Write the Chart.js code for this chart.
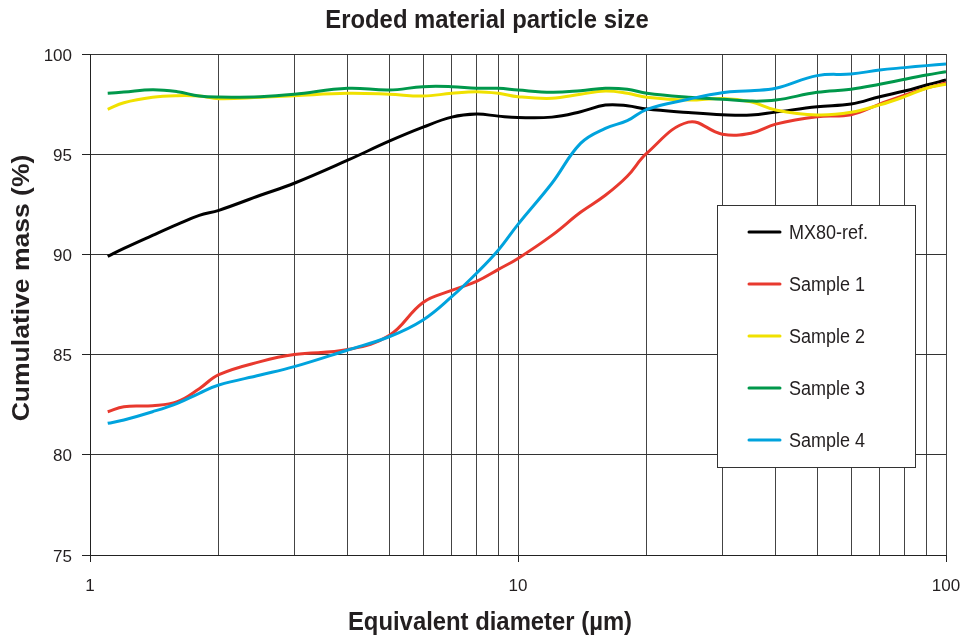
<!DOCTYPE html>
<html>
<head>
<meta charset="utf-8">
<title>Eroded material particle size</title>
<script src="https://cdn.jsdelivr.net/npm/chart.js@4.4.0/dist/chart.umd.min.js"></script>
<style>
  html, body { margin: 0; padding: 0; background: #fff; }
  #wrap { width: 960px; height: 636px; }
</style>
</head>
<body>
<div id="wrap"><canvas id="psd" width="960" height="636"></canvas></div>
<script>
// ------- data -------
// equivalent diameter (µm), shared by every curve
const diameters = [1.1, 1.2, 1.4, 1.6, 1.8, 2, 2.5, 3, 4, 5, 6, 7, 8, 9, 10,
                   12, 14, 16, 18, 20, 25, 30, 35, 40, 50, 60, 70, 80, 90, 100];

// cumulative mass (%)
const mx80Ref = [89.9, 90.3, 90.95, 91.5, 91.95, 92.2, 92.95, 93.55, 94.7, 95.65, 96.35, 96.85, 97.0, 96.9, 96.83,
                 96.85, 97.12, 97.45, 97.42, 97.25, 97.08, 96.97, 96.95, 97.1, 97.37, 97.5, 97.87, 98.15, 98.45, 98.7];
const sample1 = [82.15, 82.4, 82.45, 82.65, 83.3, 84.0, 84.65, 85.0, 85.25, 85.95, 87.6, 88.2, 88.65, 89.25, 89.8,
                 90.95, 92.1, 92.95, 93.9, 95.05, 96.6, 96.0, 96.05, 96.5, 96.87, 96.97, 97.5, 97.95, 98.3, 98.55];
const sample2 = [97.24, 97.57, 97.84, 97.92, 97.9, 97.77, 97.84, 97.92, 98.04, 97.99, 97.9, 98.04, 98.12, 98.04, 97.87,
                 97.79, 97.99, 98.15, 98.04, 97.84, 97.7, 97.78, 97.62, 97.21, 96.96, 97.09, 97.46, 97.87, 98.29, 98.49];
const sample3 = [98.04, 98.1, 98.22, 98.12, 97.9, 97.85, 97.87, 97.99, 98.29, 98.2, 98.37, 98.37, 98.29, 98.29, 98.2,
                 98.09, 98.17, 98.29, 98.24, 98.04, 97.84, 97.74, 97.65, 97.7, 98.09, 98.24, 98.49, 98.74, 98.95, 99.12];
const sample4 = [81.57, 81.74, 82.15, 82.57, 83.07, 83.48, 83.98, 84.4, 85.23, 85.89, 86.73, 87.89, 89.06, 90.22, 91.5,
                 93.55, 95.54, 96.29, 96.67, 97.24, 97.74, 98.07, 98.17, 98.29, 98.92, 99.0, 99.2, 99.32, 99.42, 99.5];

// axis ticks
const xGridTicks = [1, 2, 3, 4, 5, 6, 7, 8, 9, 10, 20, 30, 40, 50, 60, 70, 80, 90, 100];
const xLabelTicks = [1, 10, 100];
const yTicks = [75, 80, 85, 90, 95, 100];

const FONT = "'Liberation Sans', Arial, sans-serif";
const INK = '#231f20';
const NARROW = 0.9; // horizontal squeeze of the heading / legend type

const series = [
  { label: 'MX80-ref.', data: mx80Ref, color: '#000000' },
  { label: 'Sample 1',  data: sample1, color: '#e8392e' },
  { label: 'Sample 2',  data: sample2, color: '#f0e100' },
  { label: 'Sample 3',  data: sample3, color: '#00984b' },
  { label: 'Sample 4',  data: sample4, color: '#00a3dd' },
];

// text with a narrower set width
function narrowText(ctx, text, x, y, rot = 0) {
  ctx.save();
  ctx.translate(x, y);
  ctx.rotate(rot);
  if (rot) ctx.scale(1, NARROW); else ctx.scale(NARROW, 1);
  ctx.fillText(text, 0, 0);
  ctx.restore();
}

// ------- titles + boxed legend drawn on top of the plot -------
const decorations = {
  id: 'decorations',
  afterDraw(chart) {
    const { ctx } = chart;
    ctx.save();
    ctx.fillStyle = INK;
    ctx.textAlign = 'center';
    ctx.textBaseline = 'middle';

    ctx.font = `bold 26.5px ${FONT}`;
    narrowText(ctx, 'Eroded material particle size', 487, 21);
    narrowText(ctx, 'Equivalent diameter (µm)', 490, 623);
    narrowText(ctx, 'Cumulative mass (%)', 22, 288, -Math.PI / 2);

    // legend box
    const bx = 717, by = 205, bw = 198, bh = 262;
    ctx.fillStyle = '#fff';
    ctx.fillRect(bx, by, bw, bh);
    ctx.strokeStyle = '#333';
    ctx.lineWidth = 1;
    ctx.strokeRect(bx + 0.5, by + 0.5, bw, bh);

    ctx.font = `20px ${FONT}`;
    ctx.textAlign = 'left';
    chart.data.datasets.forEach((ds, i) => {
      const y = by + 27 + i * 52;
      ctx.strokeStyle = ds.borderColor;
      ctx.lineWidth = 3;
      ctx.lineCap = 'round';
      ctx.beginPath();
      ctx.moveTo(bx + 32, y);
      ctx.lineTo(bx + 63, y);
      ctx.stroke();
      ctx.fillStyle = INK;
      narrowText(ctx, ds.label, bx + 72, y + 1);
    });
    ctx.restore();
  }
};

const whiteBg = {
  id: 'whiteBg',
  beforeDraw(chart) {
    const { ctx, width, height } = chart;
    ctx.save();
    ctx.fillStyle = '#fff';
    ctx.fillRect(0, 0, width, height);
    ctx.restore();
  }
};

Chart.defaults.font.family = FONT;
Chart.defaults.color = INK;

new Chart(document.getElementById('psd'), {
  type: 'line',
  data: {
    datasets: series.map((s, i) => ({
      label: s.label,
      data: diameters.map((d, k) => ({ x: d, y: s.data[k] })),
      borderColor: s.color,
      backgroundColor: s.color,
      borderWidth: 3,
      pointRadius: 0,
      tension: 0.4,
      fill: false,
      order: series.length - i,
    }))
  },
  options: {
    responsive: false,
    animation: false,
    layout: { padding: { top: 54, right: 14, left: 0, bottom: 0 } },
    plugins: {
      legend: { display: false },
      title: { display: false },
      tooltip: { enabled: false },
    },
    scales: {
      x: {
        type: 'logarithmic',
        min: 1,
        max: 100,
        afterBuildTicks: (scale) => {
          scale.ticks = xGridTicks.map(v => ({ value: v, major: xLabelTicks.includes(v) }));
        },
        afterFit: (scale) => {
          scale.height = 81;
          scale.paddingLeft = 0;
          scale.paddingRight = 0;
        },
        ticks: {
          autoSkip: false,
          maxRotation: 0,
          padding: 14,
          font: { size: 17 },
          color: INK,
          callback: (v) => xLabelTicks.includes(v) ? String(v) : '',
        },
        grid: {
          color: '#444',
          lineWidth: 1,
          tickLength: 7,
          tickColor: (c) => (c.tick && xLabelTicks.includes(c.tick.value)) ? '#222' : 'rgba(0,0,0,0)',
        },
        border: { color: '#222', width: 1 },
      },
      y: {
        type: 'linear',
        min: 75,
        max: 100,
        afterBuildTicks: (scale) => {
          scale.ticks = yTicks.map(v => ({ value: v }));
        },
        afterFit: (scale) => { scale.width = 90; },
        ticks: {
          padding: 10,
          labelOffset: 2,
          font: { size: 17 },
          color: INK,
        },
        grid: { color: '#333', lineWidth: 1, tickLength: 8, tickColor: '#222' },
        border: { color: '#222', width: 1 },
      }
    }
  },
  plugins: [whiteBg, decorations]
});
</script>
</body>
</html>
